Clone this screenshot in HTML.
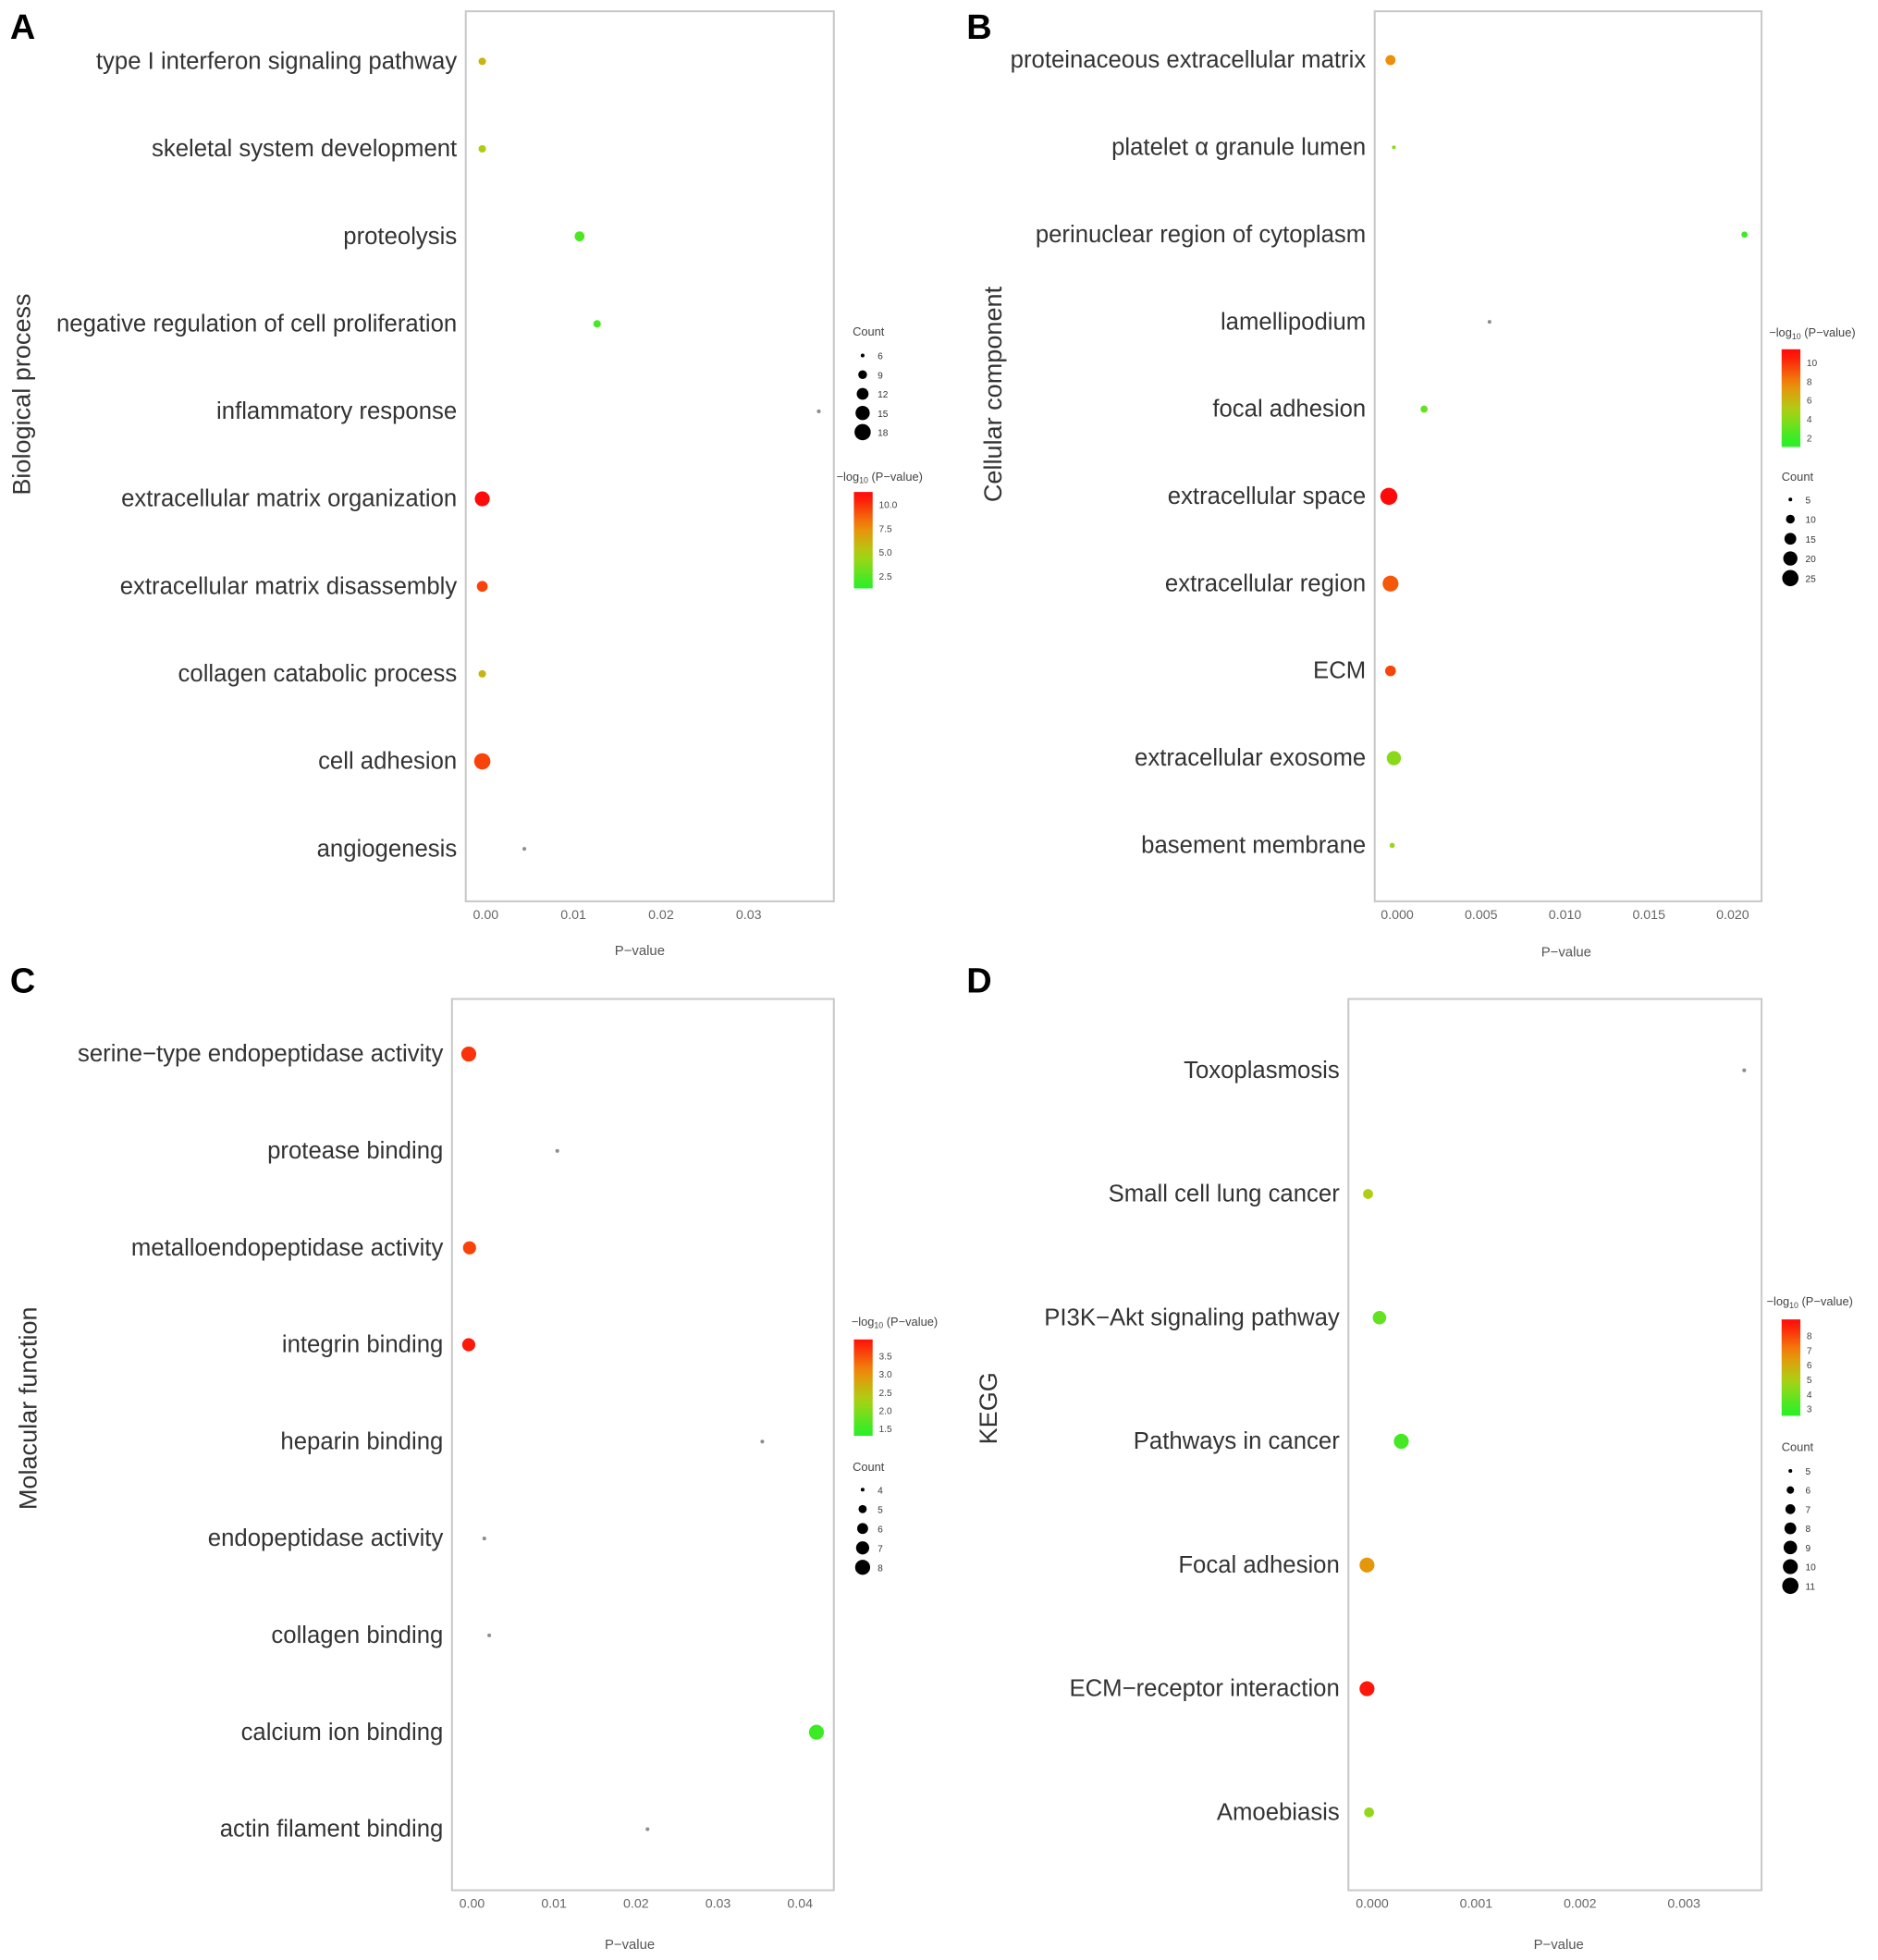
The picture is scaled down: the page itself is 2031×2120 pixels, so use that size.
<!DOCTYPE html>
<html><head><meta charset="utf-8"><style>
html,body{margin:0;padding:0;background:#fff}
svg{display:block;font-family:"Liberation Sans",sans-serif}
</style></head><body>
<svg id="fig" width="2031" height="2120" viewBox="0 0 1500 1565.7" xmlns="http://www.w3.org/2000/svg"></svg>
<script>
// ---- Panel A data ----
const aCats=["type I interferon signaling pathway","skeletal system development","proteolysis","negative regulation of cell proliferation","inflammatory response","extracellular matrix organization","extracellular matrix disassembly","collagen catabolic process","cell adhesion","angiogenesis"];
const aPvals=[-0.0004,-0.0004,0.0107,0.0127,0.0380,-0.0004,-0.0004,-0.0004,-0.0004,0.0044];
const aCounts=[8,8,10,8,6,16,11,8,18,6];
const aLogp=[6,5,2.2,2.1,0.8,11,9.5,6,9.5,0.8];
const aXTicks=[0,0.01,0.02,0.03];
const aXTickLabels=["0.00","0.01","0.02","0.03"];
const aCountLegend=[6,9,12,15,18];
const aColorTicks=[10.0,7.5,5.0,2.5];
const aColorTickLabels=["10.0","7.5","5.0","2.5"];
// ---- Panel B data ----
const bCats=["proteinaceous extracellular matrix","platelet α granule lumen","perinuclear region of cytoplasm","lamellipodium","focal adhesion","extracellular space","extracellular region","ECM","extracellular exosome","basement membrane"];
const bPvals=[-0.0004,-0.0002,0.0207,0.0055,0.0016,-0.0005,-0.0004,-0.0004,-0.0002,-0.0003];
const bCounts=[12,5,7,5,8,27,24,13,20,6];
const bLogp=[7.5,4,2,1.0,3,11,9,9.5,4,4.5];
const bXTicks=[0,0.005,0.010,0.015,0.020];
const bXTickLabels=["0.000","0.005","0.010","0.015","0.020"];
const bCountLegend=[5,10,15,20,25];
const bColorTicks=[10,8,6,4,2];
const bColorTickLabels=["10","8","6","4","2"];
// ---- Panel C data ----
const cCats=["serine−type endopeptidase activity","protease binding","metalloendopeptidase activity","integrin binding","heparin binding","endopeptidase activity","collagen binding","calcium ion binding","actin filament binding"];
const cPvals=[-0.0004,0.0104,-0.0003,-0.0004,0.0354,0.0015,0.0021,0.0420,0.0214];
const cCounts=[8,4,7,7,4,4,4,8,4];
const cLogp=[3.7,1.0,3.6,3.9,1.0,1.0,1.0,1.5,1.0];
const cXTicks=[0,0.01,0.02,0.03,0.04];
const cXTickLabels=["0.00","0.01","0.02","0.03","0.04"];
const cCountLegend=[4,5,6,7,8];
const cColorTicks=[3.5,3.0,2.5,2.0,1.5];
const cColorTickLabels=["3.5","3.0","2.5","2.0","1.5"];
// ---- Panel D data ----
const dCats=["Toxoplasmosis","Small cell lung cancer","PI3K−Akt signaling pathway","Pathways in cancer","Focal adhesion","ECM−receptor interaction","Amoebiasis"];
const dPvals=[0.00358,-0.00004,0.00007,0.00028,-0.00005,-0.00005,-0.00003];
const dCounts=[5,7,9,10,10,10,7];
const dLogp=[2.0,5,3.7,3.2,6.5,8.8,4.5];
const dXTicks=[0,0.001,0.002,0.003];
const dXTickLabels=["0.000","0.001","0.002","0.003"];
const dCountLegend=[5,6,7,8,9,10,11];
const dColorTicks=[8,7,6,5,4,3];
const dColorTickLabels=["8","7","6","5","4","3"];

const NS="http://www.w3.org/2000/svg";
const svg=document.getElementById('fig');
function mk(tag,attrs,parent,text){const e=document.createElementNS(NS,tag);for(const k in attrs)e.setAttribute(k,attrs[k]);if(text!==undefined)e.textContent=text;(parent||svg).appendChild(e);return e;}
const stops=[[0,[40,240,40]],[0.35,[170,210,20]],[0.65,[240,140,10]],[1,[255,10,10]]];
function colorAt(t){t=Math.max(0,Math.min(1,t));for(let i=1;i<stops.length;i++){if(t<=stops[i][0]){const a=stops[i-1],b=stops[i];const u=(t-a[0])/(b[0]-a[0]);const c=a[1].map((v,j)=>Math.round(v+(b[1][j]-v)*u));return `rgb(${c[0]},${c[1]},${c[2]})`;}}return 'rgb(255,10,10)';}

function panel(cfg){
  const g=mk('g',{});
  
  
  const L=cfg.box[0],T=cfg.box[1],R=cfg.box[2],B=cfg.box[3];
  const xs=v=>cfg.x0+(v-0)*cfg.xk;
  const ys=i=>cfg.y0+i*cfg.dy;
  const rs=c=>{const a=cfg.cl[0],b=cfg.cl[cfg.cl.length-1];const t=(c-a)/(b-a);return Math.sqrt(cfg.rMin*cfg.rMin+t*(cfg.rMax*cfg.rMax-cfg.rMin*cfg.rMin));};
  const cmin=cfg.cRange[0],cmax=cfg.cRange[1];
  const ct=v=>(v-cmin)/(cmax-cmin);
  const lt=mk('text',{x:cfg.letter[0],y:cfg.letter[1],'font-size':28,'font-weight':'bold',fill:'#000'},g,cfg.letterText);
  
  const box=mk('rect',{x:L,y:T,width:R-L,height:B-T,fill:'#fff',stroke:'#c8c8c8','stroke-width':1.5},g);
  
  const yt=mk('text',{x:0,y:0,'font-size':20,fill:'#333','text-anchor':'middle',transform:`translate(${cfg.ytitle[0]},${cfg.ytitle[1]}) rotate(-90)`},g,cfg.ytitleText);
  
  cfg.cats.forEach((c,i)=>{
    const t=mk('text',{x:L-7,y:ys(i)+6,'font-size':19,fill:'#333','text-anchor':'end'},g,c);
    
  });
  cfg.xt.forEach((v,i)=>{
    const t=mk('text',{x:xs(v),y:B+14,'font-size':10.5,fill:'#666','text-anchor':'middle'},g,cfg.xtl[i]);
    
  });
  const xl=mk('text',{x:cfg.xlab[0],y:cfg.xlab[1],'font-size':11,fill:'#555','text-anchor':'middle'},g,'P−value');
  
  cfg.pv.forEach((p,i)=>{
    const v=cfg.lp[i];
    const fill=v<cmin-0.2?'#8a8f8a':colorAt(ct(v));
    const d=mk('circle',{cx:xs(p),cy:ys(i),r:rs(cfg.cnt[i]).toFixed(2),fill:fill},g);
    
  });
  const cb=cfg.cbar;
  const gid='grad'+cfg.letterText;
  const defs=mk('defs',{},g);
  const lg=mk('linearGradient',{id:gid,x1:0,y1:1,x2:0,y2:0},defs);
  const bt=cb.vb,tt=cb.vt;
  for(let k=0;k<=10;k++){const v=bt+(tt-bt)*k/10;mk('stop',{offset:k/10,'stop-color':colorAt(ct(v))},lg);}
  const ttl=mk('text',{x:cb.title[0],y:cb.title[1],'font-size':9.5,fill:'#444'},g,'−log');
  mk('tspan',{'font-size':6.5,dy:2},ttl,'10');
  mk('tspan',{dy:-2},ttl,' (P−value)');
  
  const bar=mk('rect',{x:cb.x,y:cb.y1,width:15,height:cb.y2-cb.y1,fill:`url(#${gid})`},g);
  
  const cy=v=>cb.y2-(v-bt)/(tt-bt)*(cb.y2-cb.y1);
  cfg.ctk.forEach((v,i)=>{
    const t=mk('text',{x:cb.x+20,y:cy(v)+3,'font-size':7.5,fill:'#444'},g,cfg.ctl[i]);
    
  });
  const cl=cfg.count;
  const ct2=mk('text',{x:cl.title[0],y:cl.title[1],'font-size':9.5,fill:'#444'},g,'Count');
  
  cfg.cl.forEach((c,i)=>{
    const y=cl.y0+i*cl.dy;
    const d=mk('circle',{cx:cl.x,cy:y,r:rs(c).toFixed(2),fill:'#000'},g);
    
    const t=mk('text',{x:cl.x+12,y:y+3,'font-size':7.5,fill:'#333'},g,String(c));
    
  });
}

panel({name:'panel-a-biological-process',letterText:'A',letter:[8,31],box:[372,9,666,720],x0:388,xk:7000,y0:49,dy:69.9,
 cats:aCats,pv:aPvals,cnt:aCounts,lp:aLogp,xt:aXTicks,xtl:aXTickLabels,xlab:[511,763],ytitle:[24,315],ytitleText:'Biological process',
 cl:aCountLegend,rMin:1.5,rMax:6.5,cRange:[1.3,11],ctk:aColorTicks,ctl:aColorTickLabels,
 cbar:{x:682,y1:393,y2:470,vb:1.2,vt:11.3,title:[668,384]},count:{title:[681,268],x:689,y0:284,dy:15.3}});
panel({name:'panel-b-cellular-component',letterText:'B',letter:[772,31],box:[1098,9,1407,720],x0:1116,xk:13400,y0:48,dy:69.7,
 cats:bCats,pv:bPvals,cnt:bCounts,lp:bLogp,xt:bXTicks,xtl:bXTickLabels,xlab:[1251,764],ytitle:[800,315],ytitleText:'Cellular component',
 cl:bCountLegend,rMin:1.5,rMax:6.5,cRange:[1.5,11],ctk:bColorTicks,ctl:bColorTickLabels,
 cbar:{x:1423,y1:279,y2:357,vb:1.0,vt:11.4,title:[1413,269]},count:{title:[1423,384],x:1430,y0:399,dy:15.7}});
panel({name:'panel-c-molecular-function',letterText:'C',letter:[8,793],box:[361,798,666,1510],x0:377,xk:6550,y0:842,dy:77.4,
 cats:cCats,pv:cPvals,cnt:cCounts,lp:cLogp,xt:cXTicks,xtl:cXTickLabels,xlab:[503,1557],ytitle:[29,1125],ytitleText:'Molacular function',
 cl:cCountLegend,rMin:1.5,rMax:6,cRange:[1.35,4.0],ctk:cColorTicks,ctl:cColorTickLabels,
 cbar:{x:682,y1:1070,y2:1147,vb:1.3,vt:3.95,title:[680,1059]},count:{title:[681,1175],x:689,y0:1190,dy:15.5}});
panel({name:'panel-d-kegg',letterText:'D',letter:[772,793],box:[1077,798,1407,1510],x0:1096,xk:83000,y0:855,dy:98.8,
 cats:dCats,pv:dPvals,cnt:dCounts,lp:dLogp,xt:dXTicks,xtl:dXTickLabels,xlab:[1245,1557],ytitle:[796,1125],ytitleText:'KEGG',
 cl:dCountLegend,rMin:1.5,rMax:6.5,cRange:[2.7,9],ctk:dColorTicks,ctl:dColorTickLabels,
 cbar:{x:1423,y1:1054,y2:1131,vb:2.5,vt:9.1,title:[1411,1043]},count:{title:[1423,1159],x:1430,y0:1175,dy:15.3}});
</script>
</body></html>
